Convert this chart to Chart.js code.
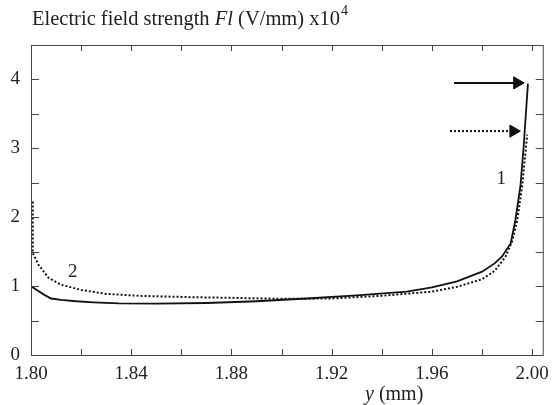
<!DOCTYPE html>
<html>
<head>
<meta charset="utf-8">
<script src="https://cdn.jsdelivr.net/npm/chart.js@4"></script>
<style>
  html, body { margin: 0; padding: 0; background: #fff; }
  #wrap { width: 557px; height: 405px; }
</style>
</head>
<body>
<div id="wrap"><canvas id="fieldChart" width="557" height="405"></canvas></div>
<script>
// Position across the gap (mm) and field strength (x10^4 V/mm)
const pos1 = [1.800, 1.802, 1.805, 1.808, 1.812, 1.818, 1.825, 1.835, 1.850, 1.870, 1.890, 1.910, 1.930, 1.950, 1.960, 1.970, 1.980, 1.985, 1.988, 1.9914, 1.9933, 1.9953, 1.9966, 1.9983];
const field1 = [1.00, 0.95, 0.88, 0.82, 0.80, 0.78, 0.765, 0.75, 0.745, 0.755, 0.78, 0.82, 0.865, 0.92, 0.98, 1.07, 1.21, 1.33, 1.43, 1.62, 1.96, 2.45, 3.03, 3.94];

const pos2 = [1.8007, 1.8007, 1.803, 1.807, 1.812, 1.820, 1.830, 1.844, 1.863, 1.880, 1.900, 1.920, 1.940, 1.960, 1.970, 1.980, 1.985, 1.9894, 1.992, 1.994, 1.996, 1.998];
const field2 = [2.23, 1.48, 1.31, 1.12, 1.02, 0.945, 0.887, 0.858, 0.84, 0.83, 0.815, 0.82, 0.86, 0.92, 0.99, 1.10, 1.22, 1.43, 1.65, 1.95, 2.45, 3.20];

// arrows pointing at the peak values
const arrow1X = [1.9688, 1.9940];
const arrow1Y = [3.95, 3.95];
const arrow2X = [1.9672, 1.9925];
const arrow2Y = [3.25, 3.25];

// curve numbers
const curveText = ['1', '2'];
const curveX = [1.9877, 1.8167];
const curveY = [2.55, 1.21];

const serif = '"Liberation Serif", "Times New Roman", serif';
Chart.defaults.font.family = serif;
Chart.defaults.font.size = 19;
Chart.defaults.color = '#222';

function pts(xs, ys) {
  return xs.map((x, i) => ({ x: x, y: ys[i] }));
}

// frame, inward ticks, title, axis name and curve numbers
const decorations = {
  id: 'decorations',
  afterDraw(chart) {
    const c = chart.ctx;
    const a = chart.chartArea;
    const xs = chart.scales.x;
    const ys = chart.scales.y;
    c.save();
    c.strokeStyle = '#444';
    c.lineWidth = 1;
    c.strokeRect(a.left + 0.5, a.top + 0.5, a.right - a.left - 1, a.bottom - a.top);

    c.beginPath();
    xs.ticks.forEach(t => {
      const px = Math.round(xs.getPixelForValue(t.value)) + 0.5;
      if (px <= a.left + 2 || px >= a.right - 2) return;
      c.moveTo(px, a.bottom); c.lineTo(px, a.bottom - 6);
      c.moveTo(px, a.top); c.lineTo(px, a.top + 6);
    });
    ys.ticks.forEach(t => {
      const py = Math.round(ys.getPixelForValue(t.value)) + 0.5;
      if (py >= a.bottom - 2 || py <= a.top + 2) return;
      c.moveTo(a.left, py); c.lineTo(a.left + 8, py);
      c.moveTo(a.right, py); c.lineTo(a.right - 8, py);
    });
    c.stroke();

    c.fillStyle = '#222';
    c.textBaseline = 'alphabetic';
    // title
    let x = 32;
    const base = 25;
    const parts = [
      ['Electric field strength ', '20.5px ' + serif],
      ['Fl', 'italic 20.5px ' + serif],
      [' (V/mm) x10', '20.5px ' + serif]
    ];
    parts.forEach(p => {
      c.font = p[1];
      c.fillText(p[0], x, base);
      x += c.measureText(p[0]).width;
    });
    c.font = '14px ' + serif;
    c.fillText('4', x + 1, base - 10);

    // x axis name
    c.font = 'italic 20px ' + serif;
    let ax = 365;
    c.fillText('y', ax, 400);
    ax += c.measureText('y ').width;
    c.font = '20px ' + serif;
    c.fillText('(mm)', ax, 400);

    // curve numbers
    c.textAlign = 'center';
    c.textBaseline = 'middle';
    c.font = '19px ' + serif;
    curveText.forEach((s, i) => {
      c.fillText(s, xs.getPixelForValue(curveX[i]), ys.getPixelForValue(curveY[i]));
    });
    c.restore();
  }
};

const ctx = document.getElementById('fieldChart').getContext('2d');
const fieldChart = new Chart(ctx, {
  type: 'scatter',
  data: {
    datasets: [
      {
        label: '1',
        data: pts(pos1, field1),
        showLine: true,
        borderColor: '#111',
        borderWidth: 1.8,
        pointRadius: 0,
        tension: 0
      },
      {
        label: '2',
        data: pts(pos2, field2),
        showLine: true,
        borderColor: '#111',
        borderWidth: 2,
        borderDash: [2, 2],
        pointRadius: 0,
        tension: 0
      },
      {
        label: 'arrow 1',
        data: pts(arrow1X, arrow1Y),
        showLine: true,
        borderColor: '#111',
        borderWidth: 2,
        pointRadius: [0, 7],
        pointStyle: 'triangle',
        pointRotation: 90,
        pointBackgroundColor: '#111',
        pointBorderColor: '#111',
        pointBorderWidth: 1
      },
      {
        label: 'arrow 2',
        data: pts(arrow2X, arrow2Y),
        showLine: true,
        borderColor: '#111',
        borderWidth: 2,
        borderDash: [2, 2],
        pointRadius: [0, 7],
        pointStyle: 'triangle',
        pointRotation: 90,
        pointBackgroundColor: '#111',
        pointBorderColor: '#111',
        pointBorderWidth: 1
      }
    ]
  },
  options: {
    responsive: false,
    animation: false,
    events: [],
    layout: { padding: { top: 45, right: 5, left: 0, bottom: 0 } },
    plugins: {
      legend: { display: false },
      tooltip: { enabled: false }
    },
    scales: {
      x: {
        type: 'linear',
        min: 1.8,
        max: 2.0046,
        grid: { display: false, drawTicks: false },
        border: { display: false },
        afterFit(scale) { scale.height = 50; },
        ticks: {
          stepSize: 0.02,
          includeBounds: false,
          autoSkip: false,
          maxRotation: 0,
          padding: 8,
          callback: v => (Math.round(v * 100) % 4 === 0 ? v.toFixed(2) : '')
        }
      },
      y: {
        min: 0,
        max: 4.5,
        grid: { display: false, drawTicks: false },
        border: { display: false },
        afterFit(scale) { scale.width = 31; },
        ticks: {
          stepSize: 0.5,
          padding: 11,
          callback: v => (Number.isInteger(v) ? v : '')
        }
      }
    }
  },
  plugins: [decorations]
});
</script>
</body>
</html>
